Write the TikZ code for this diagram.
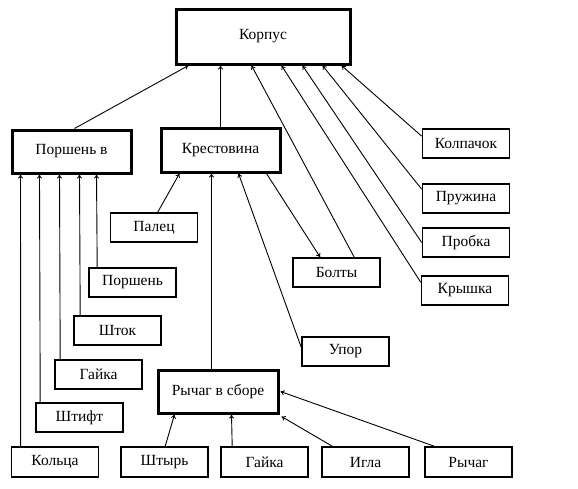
\documentclass[tikz,border=0pt]{standalone}
\usepackage{fontspec}
\setmainfont{Liberation Serif}
\usetikzlibrary{arrows.meta}
\begin{document}
\begin{tikzpicture}[x=1pt,y=-1pt,
  box/.style={draw, line width=1.6pt, minimum width=87pt, minimum height=29pt, inner sep=0pt, font=\fontsize{15.5}{18}\selectfont},
  bigbox/.style={box, line width=3pt},
  conn/.style={line width=0.9pt, -{To[length=4pt,width=5pt]}}]
\useasboundingbox (0,0) rectangle (578,488);
\node[bigbox, minimum width=174pt, minimum height=55pt] (korpus) at (263,36.5) {Корпус};
\node[bigbox, minimum width=119pt, minimum height=43pt] (porshenv) at (71.5,151.5) {Поршень в};
\node[bigbox, minimum width=119pt, minimum height=44pt] (krest) at (220.5,150) {Крестовина};
\node[box] (kolp) at (466,143.5) {Колпачок};
\node[box] (pruzh) at (466,198.5) {Пружина};
\node[box] (probka) at (466,242.5) {Пробка};
\node[box] (kryshka) at (465,290.5) {Крышка};
\node[box] (palec) at (154,227.5) {Палец};
\node[box] (porshen) at (132.5,282.5) {Поршень};
\node[box] (bolty) at (336.5,272.5) {Болты};
\node[box] (shtok) at (117.5,330.5) {Шток};
\node[box] (upor) at (345.5,351.5) {Упор};
\node[box] (gaika1) at (98.5,374.5) {Гайка};
\node[bigbox, minimum width=120pt, minimum height=43pt] (rychsb) at (218,391.5) {Рычаг в сборе};
\node[box] (shtift) at (79.5,417.5) {Штифт};
\node[box, minimum height=30pt] (kolca) at (55,462) {Кольца};
\node[box, minimum height=30pt] (shtyr) at (164.5,462) {Штырь};
\node[box, minimum height=30pt] (gaika2) at (264.5,462) {Гайка};
\node[box, minimum height=30pt] (igla) at (365.5,462) {Игла};
\node[box, minimum height=30pt] (rychag) at (468.5,462) {Рычаг};
% to Korpus
\draw[conn] ([xshift=64pt]porshenv.north west) -- ([xshift=14pt]korpus.south west);
\draw[conn] ([xshift=61pt]krest.north west) -- ([xshift=46pt]korpus.south west);
\draw[conn] ([xshift=62pt]bolty.north west) -- ([xshift=77pt]korpus.south west);
\draw[conn] ([yshift=-7pt]kryshka.north west) -- ([xshift=107pt]korpus.south west);
\draw[conn] (probka.west) -- ([xshift=128pt]korpus.south west);
\draw[conn] ([yshift=-6pt]pruzh.north west) -- ([xshift=148pt]korpus.south west);
\draw[conn] ([yshift=-8pt]kolp.north west) -- ([xshift=167pt]korpus.south west);
% to Krestovina
\draw[conn] ([xshift=48pt]palec.north west) -- ([xshift=20pt]krest.south west);
\draw[conn] ([xshift=55pt]rychsb.north west) -- ([xshift=52pt]krest.south west);
\draw[conn] ([yshift=-11pt]upor.north west) -- ([xshift=79pt]krest.south west);
\draw[conn] ([xshift=107pt]krest.south west) -- ([xshift=28pt]bolty.north west);
% to Porshen v
\draw[conn] ([xshift=10pt]kolca.north west) -- ([xshift=10pt]porshenv.south west);
\draw[conn] ([xshift=5pt]shtift.north west) -- ([xshift=29pt]porshenv.south west);
\draw[conn] ([xshift=6pt]gaika1.north west) -- ([xshift=49pt]porshenv.south west);
\draw[conn] ([xshift=7pt]shtok.north west) -- ([xshift=69pt]porshenv.south west);
\draw[conn] ([xshift=9pt]porshen.north west) -- ([xshift=86pt]porshenv.south west);
% to Rychag v sbore
\draw[conn] ([xshift=45pt]shtyr.north west) -- ([xshift=18pt]rychsb.south west);
\draw[conn] ([xshift=12pt]gaika2.north west) -- ([xshift=75pt]rychsb.south west);
\draw[conn] ([xshift=11pt]igla.north west) -- ([xshift=2pt,yshift=-2pt]rychsb.south east);
\draw[conn] ([xshift=10pt]rychag.north west) -- ([xshift=1pt]rychsb.east);
\end{tikzpicture}
\end{document}
